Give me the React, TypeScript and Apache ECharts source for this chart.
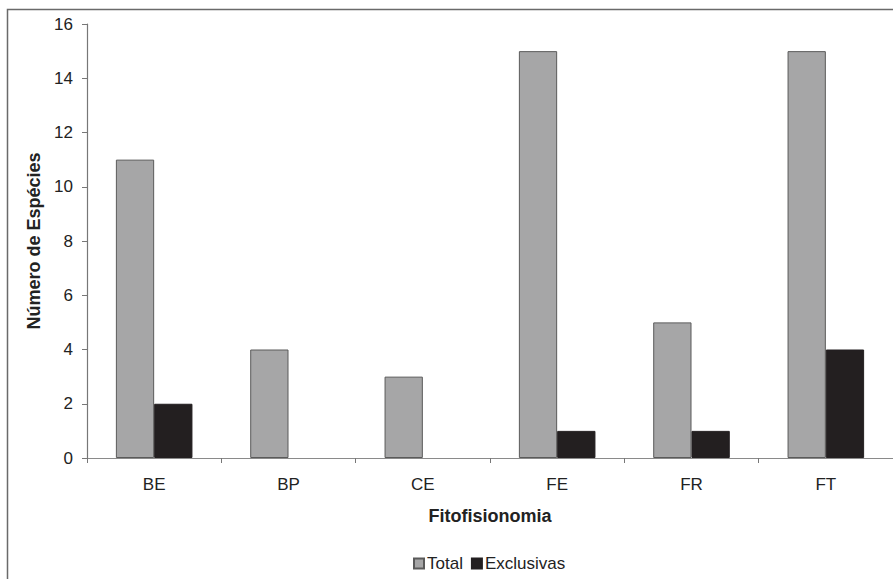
import React, { useEffect, useRef } from "react";
import * as echarts from "echarts";

const categories = ["BE", "BP", "CE", "FE", "FR", "FT"];
const totalValues = [11, 4, 3, 15, 5, 15];
const exclusivasValues = [2, 0, 0, 1, 1, 4];
const yTicks = { min: 0, max: 16, interval: 2 };
const seriesNames = ["Total", "Exclusivas"];

const FONT = "'Liberation Sans', Arial, sans-serif";

const toItems = (vals: number[]) =>
  vals.map((v) => (v === 0 ? { value: v, itemStyle: { borderWidth: 0 } } : v));

export default function App() {
  const ref = useRef<HTMLDivElement>(null);
  useEffect(() => {
    if (!ref.current) return;
    const chart = echarts.init(ref.current, null, { renderer: "svg" });
    chart.setOption({
      animation: false,
      backgroundColor: "#ffffff",
      textStyle: { fontFamily: FONT },
      graphic: [
        {
          type: "rect",
          shape: { x: 7.5, y: 9.5, width: 900, height: 600 },
          style: { fill: "none", stroke: "#6a6a6a", lineWidth: 1.5 },
          silent: true,
        },
      ],
      grid: { left: 87, right: -3, top: 24, bottom: 121, containLabel: false },
      legend: {
        top: 550,
        left: 408,
        itemWidth: 10,
        itemHeight: 10,
        itemGap: 8,
        icon: "rect",
        textStyle: { fontSize: 17, color: "#222", fontFamily: FONT, padding: [0, 0, 0, -2] },
        data: seriesNames,
      },
      xAxis: {
        type: "category",
        data: categories,
        name: "Fitofisionomia",
        nameLocation: "middle",
        nameGap: 49,
        nameTextStyle: { fontSize: 18, fontWeight: "bold", color: "#222", fontFamily: FONT },
        axisLine: { lineStyle: { color: "#8a8a8a", width: 1.2 } },
        axisTick: { show: true, length: 5, lineStyle: { color: "#777" } },
        axisLabel: { fontSize: 17, color: "#222", margin: 18, fontFamily: FONT },
      },
      yAxis: {
        type: "value",
        min: yTicks.min,
        max: yTicks.max,
        interval: yTicks.interval,
        name: "Número de Espécies",
        nameLocation: "middle",
        nameGap: 44,
        nameTextStyle: { fontSize: 18, fontWeight: "bold", color: "#222", fontFamily: FONT },
        axisLine: { show: true, lineStyle: { color: "#777", width: 1.2 } },
        axisTick: { show: true, length: 5, lineStyle: { color: "#777" } },
        axisLabel: { fontSize: 17, color: "#222", margin: 14, fontFamily: FONT },
        splitLine: { show: false },
      },
      series: [
        {
          name: seriesNames[0],
          type: "bar",
          data: toItems(totalValues),
          barGap: "0%",
          barCategoryGap: "43%",
          itemStyle: { color: "#a6a6a7", borderColor: "#5a5a5a", borderWidth: 1 },
        },
        {
          name: seriesNames[1],
          type: "bar",
          data: toItems(exclusivasValues),
          itemStyle: { color: "#231f20", borderColor: "#231f20", borderWidth: 1 },
        },
      ],
    });
    return () => chart.dispose();
  }, []);
  return (
    <div
      ref={ref}
      style={{ position: "fixed", left: 0, top: 0, width: 893, height: 579 }}
    />
  );
}
